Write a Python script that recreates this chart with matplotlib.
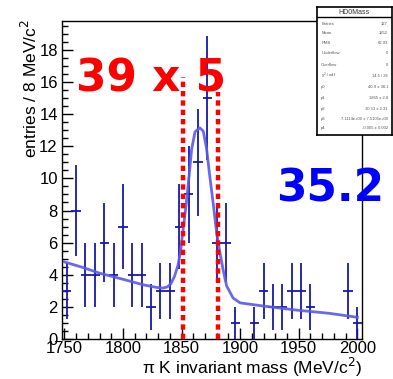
import numpy as np
import matplotlib
matplotlib.use('Agg')
import matplotlib.pyplot as plt
from matplotlib.ticker import MultipleLocator

plt.rcParams['font.family'] = ['Liberation Sans', 'DejaVu Sans']

# histogram: 8 MeV bins, 1748 - 2004
bin_centers = np.arange(1752, 2004, 8)
counts = [3, 8, 4, 4, 6, 4, 7, 4, 4, 2, 3, 3, 7, 9, 11, 15,
          6, 6, 1, 0, 1, 3, 2, 2, 3, 3, 2, 0, 0, 0, 3, 1]

# fit curve
fit_x = [1750, 1766, 1780, 1800, 1817, 1828, 1834, 1838, 1841, 1844, 1847,
         1849, 1851, 1854, 1856.5, 1858.6, 1861.5, 1865.5, 1868.5, 1871.3,
         1874, 1877, 1880, 1882.7, 1885.5, 1888.5, 1894, 1900, 1920, 1948,
         1976, 2000]
fit_y = [4.8, 4.45, 4.1, 3.72, 3.38, 3.22, 3.17, 3.25, 3.45, 3.9, 4.6,
         5.4, 6.6, 8.4, 10.2, 11.8, 12.9, 13.15, 12.95, 11.9,
         10.2, 8.45, 6.6, 5.4, 4.3, 3.3, 2.55, 2.25, 2.05, 1.8,
         1.6, 1.35]

window = [1851, 1881]
window_top = [16.3, 15.4]
signal_text = "39 x 5"
bkg_text = "35.2"

stats_title = "HD0Mass"
stats_rows = [("Entries", "127"), ("Mean", "1852"), ("RMS", "62.93"),
              ("Underflow", "0"), ("Overflow", "0"),
              ("\u03c7$^{2}$ / ndf", "14.5 / 26"), ("p0", "40.9 \u00b1 38.1"),
              ("p1", "1865 \u00b1 2.8"), ("p2", "10.53 \u00b1 2.31"),
              ("p3", "7.1114e+00 \u00b1 7.5105e+00"), ("p4", "-0.005 \u00b1 0.002")]

fig = plt.figure(figsize=(3.93, 3.79), dpi=100)
ax = fig.add_axes([62/393, 40/379, 300/393, 318.3/379])

x = np.array(bin_centers, dtype=float)
y = np.array(counts, dtype=float)
nz = y > 0
ax.errorbar(x[nz], y[nz], xerr=4, yerr=np.sqrt(y[nz]), fmt='none',
            ecolor='#1818a8', elinewidth=1.3, capsize=0, zorder=3)
ax.plot(fit_x, fit_y, color='#5a5ae6', lw=2.0, alpha=0.9, zorder=4)

for xv, top in zip(window, window_top):
    ax.plot([xv, xv], [0, top], color='red', lw=3.2, ls=(0, (1.2, 0.9)),
            zorder=5, solid_capstyle='butt')

ax.set_xlim(1748, 2004)
ax.set_ylim(0, 19.82)
ax.xaxis.set_major_locator(MultipleLocator(50))
ax.xaxis.set_minor_locator(MultipleLocator(10))
ax.yaxis.set_major_locator(MultipleLocator(2))
ax.yaxis.set_minor_locator(MultipleLocator(0.5))
ax.tick_params(which='both', direction='in', top=False, right=False,
               labelsize=12, width=1)
ax.tick_params(axis='x', pad=1.5)
ax.tick_params(axis='y', pad=3)
ax.tick_params(which='major', length=8)
ax.tick_params(which='minor', length=4)
for s in ax.spines.values():
    s.set_linewidth(1)

fig.text(362/393, 5/379, "\u03c0 K invariant mass (MeV/c$^{2}$)",
         ha='right', va='baseline', fontsize=12.5)
fig.text(30/393, 1 - 19/379, "entries / 8 MeV/c$^{2}$", rotation=90,
         ha='center', va='top', fontsize=12.5)

fig.text(76/393, 1 - 92/379, signal_text, color='red', fontsize=31.5,
         fontweight='bold', family='DejaVu Sans', va='baseline')
fig.text(276/393, 1 - 201.7/379, bkg_text, color='blue', fontsize=31.5,
         fontweight='bold', family='DejaVu Sans', va='baseline')

# stats box
sb = fig.add_axes([316.7/393, 1 - 135/379, 75/393, 128.3/379])
sb.set_xlim(0, 1)
sb.set_ylim(0, 1)
sb.set_xticks([])
sb.set_yticks([])
for s in sb.spines.values():
    s.set_linewidth(1.2)
sb.set_zorder(10)
h = 128.3
sb.axhline(1 - 10.6/h, color='black', lw=1)
sb.text(0.5, 1 - 5.3/h, stats_title, ha='center', va='center', fontsize=5,
        color='#333333')
row_y = [23.7, 33.3, 43.3, 53.3, 65, 76, 87.3, 98, 108.7, 118.7, 128]
for (name, val), ry in zip(stats_rows, row_y):
    yy = 1 - (ry - 6.7) / h
    sb.text(0.06, yy, name, ha='left', va='center', fontsize=3, color='#555555')
    sb.text(0.95, yy, val, ha='right', va='center', fontsize=3, color='#555555')

fig.savefig('out.png', dpi=100)
